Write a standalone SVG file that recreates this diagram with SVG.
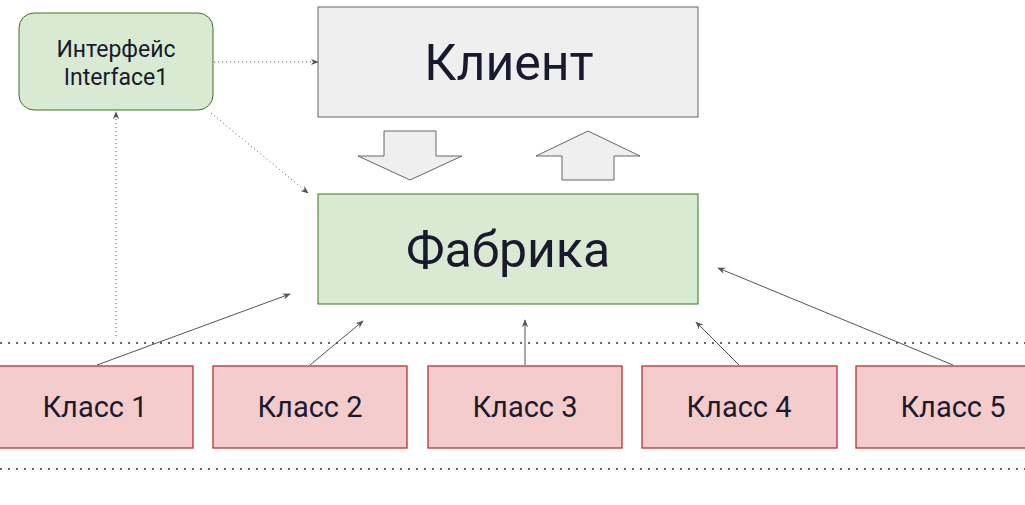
<svg xmlns="http://www.w3.org/2000/svg" width="1025" height="505" viewBox="0 0 1025 505">
<style>
text{font-family:Roboto,"Liberation Sans",sans-serif;fill:#1a1a2e;text-anchor:middle}
.green{fill:#d9ead3;stroke:#38761d;stroke-width:1}
.grey{fill:#efefef;stroke:#666;stroke-width:1}
.red{fill:#f4cccc;stroke:#b33;stroke-width:1.3}
.conn{stroke:#555;stroke-width:1;fill:none}
.dot{stroke:#555;stroke-width:1;fill:none;stroke-dasharray:1 3}
.sep{stroke:#666;stroke-width:2;fill:none;stroke-dasharray:2 6}
.big{font-size:50px}
.cls{font-size:29px}
.ifc{font-size:23px}
</style>
<defs>
<marker id="ah" viewBox="0 0 10 10" refX="9" refY="5" markerWidth="8" markerHeight="8" markerUnits="userSpaceOnUse" orient="auto">
<path d="M0,1 L10,5 L0,9 L3,5 z" fill="#555"/>
</marker>
</defs>
<rect width="1025" height="505" fill="#fff"/>
<g id="separators">
<line class="sep" x1="0" y1="343" x2="1025" y2="343"/>
<line class="sep" x1="0" y1="469" x2="1025" y2="469"/>
</g>
<g id="interface">
<rect class="green" x="19" y="13" width="194" height="97" rx="15"/>
<text class="ifc" x="116" y="57">Интерфейс</text>
<text class="ifc" x="116" y="85">Interface1</text>
</g>
<g id="client">
<rect class="grey" x="318" y="7" width="380" height="110"/>
<text class="big" x="509" y="80">Клиент</text>
</g>
<g id="arrow-down">
<path class="grey" d="M384,131 H436 V156 H462 L410,180 L358,156 H384 Z"/>
</g>
<g id="arrow-up">
<path class="grey" d="M588,131 L640,156 H614 V180 H562 V156 H536 Z"/>
</g>
<g id="factory">
<rect class="green" x="318" y="194" width="380" height="110"/>
<text class="big" x="508" y="267">Фабрика</text>
</g>
<g id="class1"><rect class="red" x="-2" y="366" width="195" height="82"/><text class="cls" x="95" y="417">Класс 1</text></g>
<g id="class2"><rect class="red" x="213" y="366" width="194" height="82"/><text class="cls" x="310" y="417">Класс 2</text></g>
<g id="class3"><rect class="red" x="428" y="366" width="194" height="82"/><text class="cls" x="525" y="417">Класс 3</text></g>
<g id="class4"><rect class="red" x="642" y="366" width="195" height="82"/><text class="cls" x="739" y="417">Класс 4</text></g>
<g id="class5"><rect class="red" x="856" y="366" width="194" height="82"/><text class="cls" x="953" y="417">Класс 5</text></g>
<g id="connectors">
<line class="dot" x1="214" y1="62" x2="318" y2="62" marker-end="url(#ah)"/>
<line class="dot" x1="211" y1="113" x2="308" y2="193" marker-end="url(#ah)"/>
<line class="dot" x1="116" y1="336" x2="116" y2="112" marker-end="url(#ah)"/>
<line class="conn" x1="97" y1="365" x2="290" y2="294" marker-end="url(#ah)"/>
<line class="conn" x1="310" y1="365" x2="363" y2="321" marker-end="url(#ah)"/>
<line class="conn" x1="525" y1="365" x2="525" y2="320" marker-end="url(#ah)"/>
<line class="conn" x1="739" y1="365" x2="696" y2="322" marker-end="url(#ah)"/>
<line class="conn" x1="953" y1="365" x2="718" y2="268" marker-end="url(#ah)"/>
</g>
</svg>
